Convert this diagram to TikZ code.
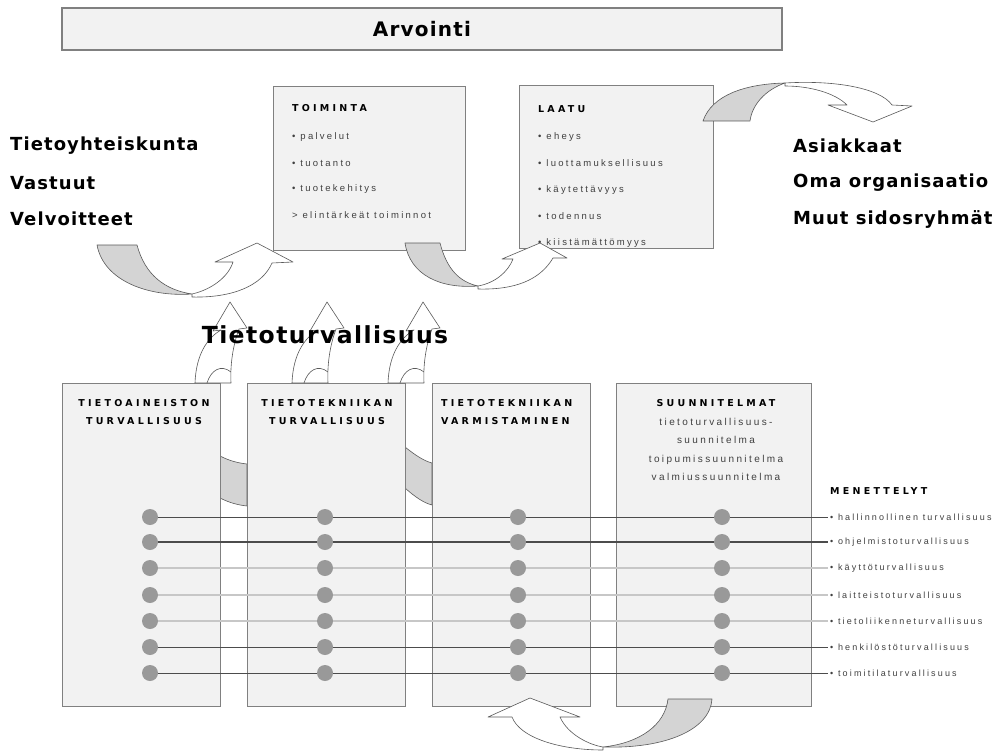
\documentclass[tikz,border=0pt]{standalone}
\usepackage{fontspec}
\setmainfont{Liberation Sans}
\newfontfamily\heavy[LetterSpace=6]{DejaVu Sans}
\newfontfamily\capsf[LetterSpace=34]{DejaVu Sans}
\newfontfamily\itemf[LetterSpace=24]{Liberation Sans}
\usetikzlibrary{calc}
\pgfdeclarelayer{bg}
\pgfsetlayers{bg,main}
\begin{document}
\begin{tikzpicture}[x=1pt,y=-1pt,
  box/.style={draw=black!50, line width=1.2pt, fill=black!5, inner sep=0pt},
  ribbon/.style={draw=black!65, line width=0.6pt, line join=round, fill=white},
  back/.style={draw=black!65, line width=0.6pt, line join=round, fill=black!17},
  bigtxt/.style={inner sep=0pt, anchor=west, font=\heavy\bfseries\fontsize{18}{21}\selectfont},
  capt/.style={inner sep=0pt, font=\capsf\bfseries\fontsize{9.5}{18}\selectfont},
  item/.style={inner sep=0pt, anchor=west, text=black!75, font=\itemf\fontsize{9.5}{11}\selectfont},
  dot/.style={circle, fill=black!40, minimum size=16pt, inner sep=0pt},
  thinrow/.style={draw=black!70, line width=0.8pt},
  midrow/.style={draw=black!70, line width=1.4pt},
  lightrow/.style={draw=black!22, line width=2pt}]
\useasboundingbox (0,0) rectangle (1008,754);

% ---- title box
\node[box, minimum width=720pt, minimum height=42pt] (arv) at (422,29)
  {\heavy\bfseries\fontsize{20}{24}\selectfont Arvointi};

% ---- top boxes
\node[box, anchor=north west, minimum width=192pt, minimum height=164pt] (toim) at (273,86) {};
\node[box, anchor=north west, minimum width=194pt, minimum height=163pt] (laatu) at (519,85) {};
\node[capt, anchor=west] (toimh) at ($(toim.north west)+(19,22)$) {TOIMINTA};
\node[capt, anchor=west] (laatuh) at ($(laatu.north west)+(19,24)$) {LAATU};
\foreach \t [count=\i] in {• palvelut, • tuotanto, • tuotekehitys, > elintärkeät toiminnot}
  \node[item] (ti\i) at ($(toim.north west)+(19,25+26*\i)$) {\t};
\foreach \t [count=\i] in {• eheys, • luottamuksellisuus, • käytettävyys, • todennus, • kiistämättömyys}
  \node[item] (la\i) at ($(laatu.north west)+(19,25.5+26.5*\i)$) {\t};

% ---- side texts
\node[bigtxt] (l1) at (10,146) {Tietoyhteiskunta};
\node[bigtxt] (l2) at (10,183) {Vastuut};
\node[bigtxt] (l3) at (10,219) {Velvoitteet};
\node[bigtxt] (r1) at (793,146) {Asiakkaat};
\node[bigtxt] (r2) at (793,183) {Oma organisaatio};
\node[bigtxt] (r3) at (793,219) {Muut sidosryhmät};

% ---- curved arrow 1
\draw[back] (97,245) -- (137,245) .. controls (145,275) and (165,290) .. (192,294)
  .. controls (150,297) and (104,282) .. (97,245) -- cycle;
\draw[ribbon] (192,294) .. controls (210,290) and (228,278) .. (233,262) -- (215,262) -- (257,243)
  -- (293,262) -- (272,263) .. controls (262,286) and (232,298) .. (192,297) -- cycle;
% ---- curved arrow 2
\draw[back] (405,243) -- (440,243) .. controls (447,270) and (460,282) .. (478,286)
  .. controls (440,289) and (410,275) .. (405,243) -- cycle;
\draw[ribbon] (478,286) .. controls (495,283) and (508,272) .. (513,259) -- (502,259) -- (540,243)
  -- (567,258) -- (553,258) .. controls (540,280) and (515,290) .. (478,289) -- cycle;
% ---- curved arrow 3 (top right)
\draw[back] (703,121) .. controls (712,95) and (745,84) .. (785,83)
  .. controls (765,90) and (752,105) .. (750,121) -- cycle;
\draw[ribbon] (785,83) .. controls (835,80) and (880,88) .. (892,105) -- (912,106) -- (873,122)
  -- (828,105) -- (847,105) .. controls (835,93) and (810,86) .. (785,86) -- cycle;

% ---- gray strips between bottom boxes
\draw[back] (220,456) .. controls (230,461) and (238,463) .. (247,464) -- (247,506)
  .. controls (238,505) and (230,503) .. (220,498) -- cycle;
\draw[back] (405,447) .. controls (415,455) and (424,461) .. (432,463) -- (432,505)
  .. controls (424,503) and (415,497) .. (405,488) -- cycle;

% ---- bottom boxes
\node[box, anchor=north west, minimum width=158pt, minimum height=323pt] (ba) at (62,383) {};
\node[box, anchor=north west, minimum width=158pt, minimum height=323pt] (bb) at (247,383) {};
\node[box, anchor=north west, minimum width=158pt, minimum height=323pt] (bc) at (432,383) {};
\node[box, anchor=north west, minimum width=195pt, minimum height=323pt] (bd) at (616,383) {};
\node[capt, align=center, anchor=north] (ta) at (144,399) {TIETOAINEISTON\\TURVALLISUUS};
\node[capt, align=center, anchor=north] (tb) at (327,399) {TIETOTEKNIIKAN\\TURVALLISUUS};
\node[capt, align=left, anchor=north west] (tc) at (441,399) {TIETOTEKNIIKAN\\VARMISTAMINEN};
\node[capt, anchor=north] (td) at (716,399) {SUUNNITELMAT};
\node[inner sep=0pt, anchor=north, align=center, text=black!75,
  font=\itemf\fontsize{10}{18.3}\selectfont] (tdl) at (716,418)
  {tietoturvallisuus-\\suunnitelma\\toipumissuunnitelma\\valmiussuunnitelma};

% ---- small up arrows
\foreach \xo [count=\k] in {195,292,388}{
  \begin{scope}[shift={(\xo,0)}]
    \draw[ribbon] (0,383) .. controls (1,355) and (12,338) .. (26,330) -- (18,331) -- (35,302)
      -- (52,328) -- (44,329) .. controls (38,345) and (35,365) .. (36,383) -- cycle;
    \draw[ribbon, fill=none] (12,383) .. controls (16,370) and (26,364) .. (36,372);
  \end{scope}
}
\node[inner sep=0pt, font=\heavy\bfseries\fontsize{23.5}{28}\selectfont] (tt) at (325,335) {Tietoturvallisuus};

% ---- procedure rows
\node[capt, anchor=west] (men) at (830,491) {MENETTELYT};
\foreach \t/\yy/\st [count=\r] in {• hallinnollinen turvallisuus/517/thinrow, • ohjelmistoturvallisuus/542/midrow,
  • käyttöturvallisuus/568/lightrow, • laitteistoturvallisuus/595/lightrow,
  • tietoliikenneturvallisuus/621/lightrow, • henkilöstöturvallisuus/647/thinrow,
  • toimitilaturvallisuus/673/thinrow}{
  \node[item, font=\itemf\fontsize{9}{10}\selectfont] (m\r) at (830,\yy) {\t};
  \coordinate (e\r) at (828,\yy);
  \node[dot] (d\r a) at (150,\yy) {};
  \node[dot] (d\r b) at (325,\yy) {};
  \node[dot] (d\r c) at (518,\yy) {};
  \node[dot] (d\r d) at (722,\yy) {};
  \draw[\st] (d\r a.east) -- (d\r b.west);
  \draw[\st] (d\r b.east) -- (d\r c.west);
  \draw[\st] (d\r c.east) -- (d\r d.west);
  \draw[\st] (d\r d.east) -- (e\r);
}

% ---- bottom curved arrow
\draw[back] (712,699) -- (668,699) .. controls (665,725) and (640,743) .. (603,747)
  .. controls (665,749) and (710,730) .. (712,699) -- cycle;
\draw[ribbon] (603,747) .. controls (590,745) and (568,735) .. (560,717) -- (580,717) -- (530,698)
  -- (488,717) -- (512,717) .. controls (520,738) and (560,750) .. (603,750) -- cycle;
\end{tikzpicture}
\end{document}
